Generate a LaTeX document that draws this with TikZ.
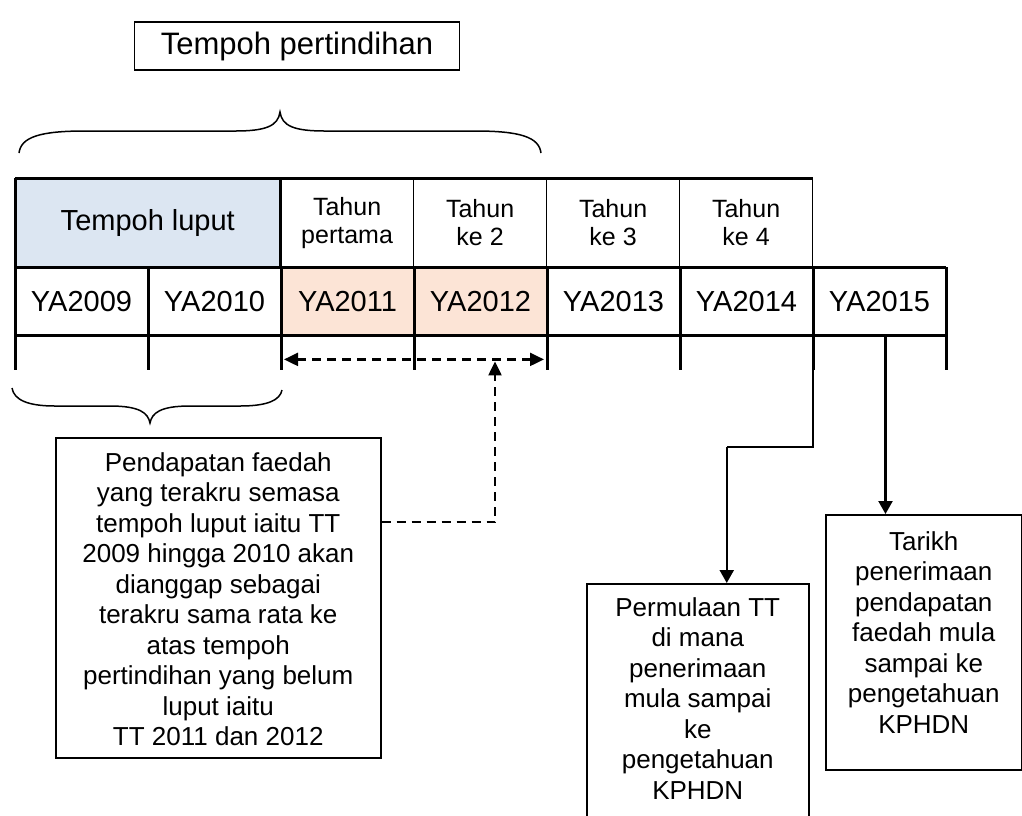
\documentclass[tikz,border=0pt]{standalone}
\usepackage{fontspec}
\setmainfont{Liberation Sans}
\usetikzlibrary{arrows.meta,positioning,calc}
\definecolor{LuputBlue}{RGB}{220,230,242}
\definecolor{OverlapPeach}{RGB}{252,228,214}
\newcommand{\setfs}[2]{\fontsize{#1}{#2}\selectfont}

\begin{document}
\begin{tikzpicture}[x=1pt,y=-1pt,
    yacell/.style={minimum width=132.6pt,minimum height=68pt,inner sep=0pt,font=\setfs{29}{33}},
    hdcell/.style={minimum width=132.6pt,minimum height=89pt,inner sep=0pt,align=center,font=\setfs{25}{28}},
    gridthick/.style={line width=3pt},
    gridthin/.style={line width=1.5pt},
    txtbox/.style={draw,line width=1.5pt,inner sep=0pt},
    boxtext/.style={align=center,inner sep=0pt,font=\setfs{26}{30.5}},
    brc/.style={line width=1.5pt},
    elbowline/.style={line width=1.5pt},
    conn/.style={-{Triangle[length=13pt,width=14pt]},line width=2.2pt},
    dasharr/.style={line width=2.2pt,dash pattern=on 9pt off 6pt}
  ]
  \useasboundingbox (0,0) rectangle (1022,815);

  % label above the brace
  \node[txtbox,minimum width=325pt,minimum height=48pt,font=\setfs{31}{35}] (pertindihan) at (297,46) {Tempoh pertindihan};

  % header row
  \node[hdcell,anchor=north west,minimum width=265.2pt,fill=LuputBlue,font=\setfs{29}{33}] (luput) at (15,178) {Tempoh luput};
  \node[hdcell,right=0pt of luput] (t1) {Tahun\\pertama};
  \node[hdcell,right=0pt of t1] (t2) {Tahun\\ke 2};
  \node[hdcell,right=0pt of t2] (t3) {Tahun\\ke 3};
  \node[hdcell,right=0pt of t3] (t4) {Tahun\\ke 4};

  % year row
  \node[yacell,anchor=north west] (y1) at (15,267) {YA2009};
  \node[yacell,right=0pt of y1] (y2) {YA2010};
  \node[yacell,right=0pt of y2,fill=OverlapPeach] (y3) {YA2011};
  \node[yacell,right=0pt of y3,fill=OverlapPeach] (y4) {YA2012};
  \node[yacell,right=0pt of y4] (y5) {YA2013};
  \node[yacell,right=0pt of y5] (y6) {YA2014};
  \node[yacell,right=0pt of y6] (y7) {YA2015};

  % grid lines
  \draw[gridthick] (luput.north west) -- (t4.north east);
  \draw[gridthick] (y1.north west) -- (y7.north east);
  \draw[gridthick] (y1.south west) -- (y7.south east);
  \draw[gridthick] (luput.north west) -- (luput.south west);
  \draw[gridthick] (luput.north east) -- (luput.south east);
  \foreach \c in {t2,t3,t4} \draw[gridthin] (\c.north west) -- (\c.south west);
  \draw[gridthin] (t4.north east) -- (t4.south east);
  \foreach \i in {1,...,7} \draw[gridthick] (y\i.north west) -- ([yshift=-35pt]y\i.south west);
  \draw[gridthick] (y7.north east) -- ([yshift=-35pt]y7.south east);
  \coordinate (s7) at ([xshift=6pt,yshift=-35pt]y7.south);
  \coordinate (s6) at ([yshift=-35pt]y7.south west);
  \draw[gridthick] ([xshift=6pt]y7.south) -- (s7);

  % braces
  \draw[brc] (19,153) .. controls (21,137) and (40,131) .. (85,131) -- (235,131)
    .. controls (266,131) and (278,126) .. (280,112)
    .. controls (282,126) and (294,131) .. (325,131) -- (475,131)
    .. controls (520,131) and (539,137) .. (541,153);
  \draw[brc] (12,388) .. controls (14,400) and (28,406) .. (55,406) -- (110,406)
    .. controls (140,406) and (148,413) .. (150,423)
    .. controls (152,413) and (160,406) .. (190,406) -- (240,406)
    .. controls (268,406) and (280,400) .. (282,390);

  % overlap span
  \draw[dasharr,{Triangle[length=14pt,width=13pt]}-{Triangle[length=14pt,width=13pt]}]
    ([xshift=3pt,yshift=-24pt]y3.south west) -- ([xshift=-3pt,yshift=-24pt]y4.south east);
  \coordinate (ovl) at ([xshift=81pt,yshift=-26pt]y4.south west);

  % text boxes
  \node[txtbox,anchor=north west,minimum width=325pt,minimum height=320pt] (faedah) at (55,437) {};
  \node[boxtext,below=15pt of faedah.north] (faedahtxt) {Pendapatan faedah\\yang terakru semasa\\tempoh luput iaitu TT\\2009 hingga 2010 akan\\dianggap sebagai\\terakru sama rata ke\\atas tempoh\\pertindihan yang belum\\luput iaitu\\TT 2011 dan 2012};
  \node[txtbox,anchor=north west,minimum width=222pt,minimum height=260pt] (permulaan) at (586,583) {};
  \node[boxtext,below=14pt of permulaan.north] (permulaantxt) {Permulaan TT\\di mana\\penerimaan\\mula sampai\\ke\\pengetahuan\\KPHDN};
  \node[txtbox,anchor=north west,minimum width=196pt,minimum height=255pt] (tarikh) at (825,514) {};
  \node[boxtext,below=17pt of tarikh.north] (tarikhtxt) {Tarikh\\penerimaan\\pendapatan\\faedah mula\\sampai ke\\pengetahuan\\KPHDN};

  % connectors
  \draw[dasharr,-{Triangle[length=14pt,width=13pt]}] ([yshift=-85pt]faedah.north east) -| (ovl);
  \draw[conn] (s7) -- (s7 |- tarikh.north);
  \draw[elbowline] (s6) |- ([xshift=29pt,yshift=136pt]permulaan.north) coordinate (elbow);
  \draw[conn] (elbow) -- ([xshift=29pt]permulaan.north);
\end{tikzpicture}
\end{document}
